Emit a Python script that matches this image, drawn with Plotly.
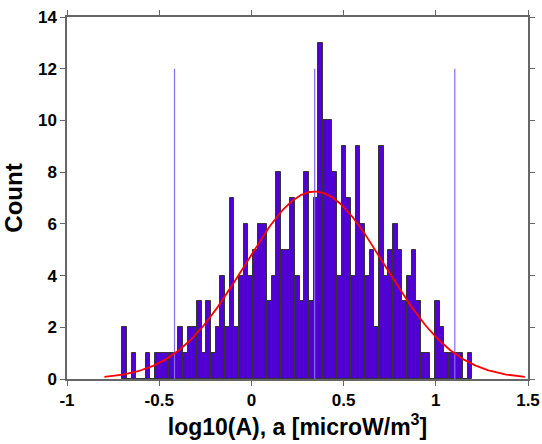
import numpy as np
import plotly.graph_objects as go

# Histogram data (75 bins)
bin_start = -0.700
bin_width = 0.0253
counts = [2, 0, 1, 0, 0, 1, 0, 1, 1, 1, 1, 1, 2, 1, 2, 2,
          3, 1, 3, 1, 2, 4, 2, 7, 2, 4, 6, 4, 5, 6, 6, 3,
          4, 8, 5, 5, 7, 4, 3, 8, 3, 7, 13, 10, 10, 8, 4, 9,
          7, 4, 9, 6, 4, 5, 2, 9, 4, 5, 6, 5, 3, 4, 5, 3,
          1, 1, 0, 3, 2, 1, 1, 1, 1, 0, 1]

# Gaussian fit parameters
fit_mean = 0.343
fit_sigma = 0.38
fit_amp = 7.25
marker_height = 12

x_ticks = [-1, -0.5, 0, 0.5, 1, 1.5]
y_ticks = [0, 2, 4, 6, 8, 10, 12, 14]

centers = [bin_start + (i + 0.5) * bin_width for i in range(len(counts))]

fig = go.Figure()

# marker lines at mean - 2σ, mean, mean + 2σ (drawn behind bars)
for k in (-2, 0, 2):
    xv = fit_mean + k * fit_sigma
    fig.add_trace(go.Scatter(x=[xv, xv], y=[0, marker_height], mode="lines",
                             line=dict(color="#8a6aec", width=1.2), showlegend=False))

fig.add_trace(go.Bar(
    x=centers, y=counts, width=bin_width,
    marker=dict(color="#5000d2", line=dict(color="#333333", width=1)),
    showlegend=False, hoverinfo="x+y"))

xs = np.linspace(fit_mean - 3 * fit_sigma, fit_mean + 3 * fit_sigma, 300)
ys = fit_amp * np.exp(-0.5 * ((xs - fit_mean) / fit_sigma) ** 2)
fig.add_trace(go.Scatter(x=xs, y=ys, mode="lines",
                         line=dict(color="#ff0000", width=1.8), showlegend=False))

font_fam = "Liberation Sans, Arial, sans-serif"
fig.update_layout(
    width=542, height=444,
    margin=dict(l=67, r=14, t=17, b=65),
    paper_bgcolor="white", plot_bgcolor="white",
    bargap=0,
    font=dict(family=font_fam, color="black"),
    xaxis=dict(range=[-1, 1.5], tickvals=x_ticks, ticktext=[str(v) for v in x_ticks],
               automargin=False,
               showgrid=False, zeroline=False, showline=True, linecolor="#666666", linewidth=1.5,
               mirror="ticks", ticks="outside", ticklen=5, tickcolor="#666666",
               tickfont=dict(size=17, weight="bold"),
               title=dict(text="log10(A), a [microW/m<sup>3</sup>]", font=dict(size=23, weight="bold"),
                          standoff=6)),
    yaxis=dict(range=[0, 14], tickvals=y_ticks,
               automargin=False,
               showgrid=False, zeroline=False, showline=True, linecolor="#666666", linewidth=1.5,
               mirror="ticks", ticks="outside", ticklen=5, tickcolor="#666666",
               tickfont=dict(size=17, weight="bold"),
               title=dict(text="Count", font=dict(size=24, weight="bold"), standoff=10)),
)

fig.write_html("out.html", config={"displayModeBar": False},
               post_script="document.body.style.margin='0px';document.body.style.overflow='hidden';")
